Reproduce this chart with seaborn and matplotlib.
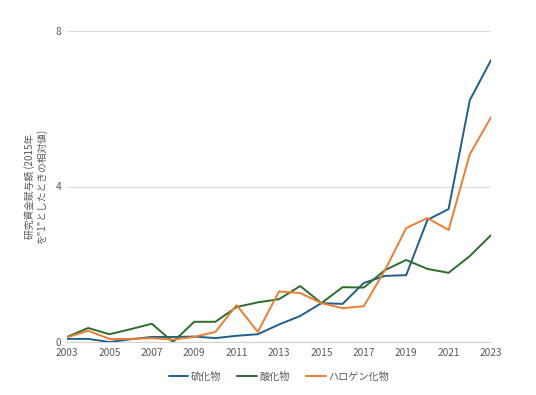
import matplotlib
matplotlib.use("Agg")
import matplotlib.pyplot as plt
import seaborn as sns
import pandas as pd

years = list(range(2003, 2024))
sulfide = [0.08, 0.08, 0.0, 0.07, 0.13, 0.13, 0.14, 0.10, 0.16, 0.20, 0.45, 0.67, 1.0, 0.98, 1.52, 1.70, 1.72, 3.14, 3.42, 6.22, 7.25]
oxide = [0.13, 0.36, 0.20, 0.33, 0.47, 0.0, 0.52, 0.52, 0.90, 1.02, 1.10, 1.44, 1.0, 1.41, 1.40, 1.85, 2.11, 1.88, 1.78, 2.21, 2.75]
halide = [0.12, 0.29, 0.08, 0.08, 0.10, 0.06, 0.13, 0.26, 0.95, 0.26, 1.30, 1.26, 1.0, 0.87, 0.92, 1.85, 2.93, 3.19, 2.88, 4.83, 5.78]
series_names = ["硫化物", "酸化物", "ハロゲン化物"]
colors = ["#1f5f8b", "#2b6d2b", "#ed7d31"]

df = pd.DataFrame({"year": years * 3,
                   "value": sulfide + oxide + halide,
                   "series": [series_names[0]] * len(years) + [series_names[1]] * len(years) + [series_names[2]] * len(years)})

sns.set_style("white")
plt.rcParams['font.family'] = ['Noto Sans CJK JP', 'DejaVu Sans']

fig = plt.figure(figsize=(5.36, 3.95), dpi=100)
ax = fig.add_axes([67/536, 1 - 342/395, (491-67)/536, (342-31)/395])

sns.lineplot(data=df, x="year", y="value", hue="series", palette=colors,
             hue_order=series_names, linewidth=1.4, ax=ax, legend=True)

ax.set_xlim(2003, 2023)
ax.set_ylim(0, 8)
ax.set_xticks(list(range(2003, 2024, 2)))
ax.set_yticks([0, 4, 8])
ax.yaxis.grid(True, color="#dcdcdc", linewidth=0.8)
ax.set_axisbelow(True)
for s in ["top", "right", "left"]:
    ax.spines[s].set_visible(False)
ax.spines["bottom"].set_color("#d0d0d0")
ax.tick_params(axis="both", length=0, labelsize=7.3, colors="#595959", pad=4)
ax.set_xlabel("")
ax.set_ylabel("研究資金賦与額 (2015年\nを\"1\"としたときの相対値)", fontsize=7, color="#595959", labelpad=6)

handles, labels = ax.get_legend_handles_labels()
ax.legend(handles, labels, loc="upper center", bbox_to_anchor=(0.5, -0.065), ncol=3,
          frameon=False, fontsize=7.3, labelcolor="#595959", handlelength=1.9,
          handletextpad=0.3, columnspacing=1.6)

fig.savefig("out.png", dpi=100)
